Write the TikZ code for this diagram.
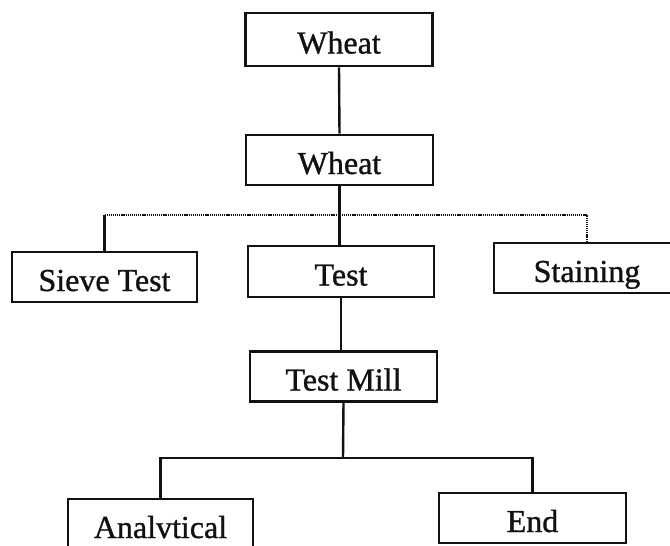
\documentclass[tikz,border=0pt]{standalone}
\usepackage{fontspec}
\setmainfont{Liberation Serif}
\newfontfamily\scanfont{Liberation Serif}[FakeBold=1]
\usetikzlibrary{calc}
\definecolor{ink}{HTML}{111111}
\definecolor{paper}{HTML}{FFFFFF}

\begin{document}
\begin{tikzpicture}[x=1pt,y=-1pt,
box/.style={draw=ink,line width=2.8pt,fill=paper,minimum width=187pt,minimum height=50pt,inner sep=0pt,text height=28pt,text depth=0pt,font=\scanfont\fontsize{32}{36}\selectfont,text=ink},
link/.style={draw=ink,line width=2.4pt},
dotlink/.style={draw=ink,line width=2pt,dash pattern=on 1.2pt off 0.9pt}]
\clip (0,0) rectangle (670,546);
\fill[paper] (0,0) rectangle (670,546);
\node[box,minimum height=53pt] (wheattop) at (339,39.5) {Wheat};
\node[box] (wheat) at (339.5,160) {Wheat};
\node[box,minimum width=185pt] (sieve) at (104.5,277) {Sieve Test};
\node[box,minimum width=186pt,minimum height=51pt] (test) at (341,271.5) {Test};
\node[box,minimum width=186pt] (staining) at (587,268) {Staining};
\node[box] (testmill) at (343.5,376.5) {Test Mill};
\node[box,minimum width=185pt] (analytical) at (160.5,524) {Analvtical};
\node[box] (end) at (532.5,518) {End};
\coordinate (bar) at (341,215);
\coordinate (fork) at (343,458);
\draw[link] (wheattop.south) -- (wheat.north);
\draw[link] (wheat.south) -- (wheat.south |- test.north);
\draw[link] (sieve.north) -- (sieve.north |- bar);
\draw[dotlink] (sieve.north |- bar) -| (staining.north);
\draw[link] (test.south) -- (test.south |- testmill.north);
\draw[link] (testmill.south) -- (fork);
\draw[link] (analytical.north) |- (fork) -| (end.north);
\end{tikzpicture}
\end{document}
